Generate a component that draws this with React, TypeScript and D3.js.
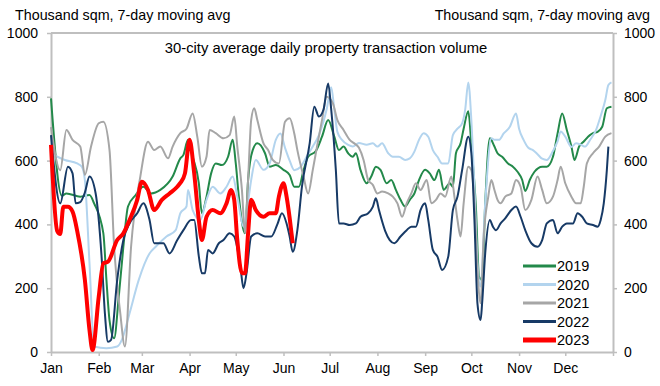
import { useEffect, useRef } from 'react';
import * as d3 from 'd3';

const WIDTH = 660;
const HEIGHT = 386;

const MONTHS = ['Jan', 'Feb', 'Mar', 'Apr', 'May', 'Jun', 'Jul', 'Aug', 'Sep', 'Oct', 'Nov', 'Dec'];
const MONTH_START_DAYS = [0, 31, 59, 90, 120, 151, 181, 212, 243, 273, 304, 334];
const Y_TICKS = [0, 200, 400, 600, 800, 1000];

// [day of year, thousand sqm]
const VOL_2019: [number, number][] = [
  [0, 795], [7, 490], [10, 497], [19, 487], [25, 492], [28, 466], [34, 372], [36, 226], [38, 100], [41, 43],
  [44, 173], [47, 330], [50, 456], [55, 492], [60, 518], [65, 497], [71, 508], [79, 550], [84, 607], [86, 618],
  [89, 665], [92, 612], [96, 529], [98, 435], [101, 487], [104, 560], [107, 591], [111, 586], [115, 612], [118, 665],
  [120, 591], [122, 487], [126, 372], [128, 539], [131, 633], [134, 654], [139, 623], [142, 581], [146, 586], [151, 571],
  [155, 555], [158, 518], [161, 518], [164, 570], [167, 612], [172, 630], [176, 675], [180, 727], [184, 675], [187, 633],
  [190, 644], [193, 623], [196, 612], [198, 623], [201, 571], [205, 529], [208, 550], [211, 581], [214, 571], [218, 529],
  [221, 539], [224, 508], [227, 477], [230, 456], [233, 477], [236, 497], [239, 539], [243, 571], [246, 560], [249, 539],
  [252, 571], [255, 508], [259, 529], [261, 518], [263, 623], [266, 654], [268, 700], [271, 755], [273, 650], [276, 450],
  [278, 236], [280, 226], [282, 466], [285, 670], [288, 644], [290, 623], [293, 612], [297, 590], [300, 581], [303, 565],
  [306, 540], [308, 505], [311, 540], [314, 565], [319, 581], [322, 581], [326, 612], [329, 685], [332, 748], [335, 696],
  [338, 644], [340, 602], [343, 644], [346, 660], [350, 680], [352, 686], [355, 690], [358, 706], [361, 764], [364, 769],
];

const VOL_2020: [number, number][] = [
  [0, 623], [9, 602], [17, 591], [20, 581], [22, 539], [25, 278], [28, 17], [36, 12], [43, 17], [46, 38],
  [51, 121], [57, 226], [64, 309], [68, 330], [75, 362], [81, 382], [84, 435], [88, 456], [89, 508], [92, 445],
  [97, 414], [101, 477], [105, 518], [110, 497], [114, 518], [118, 550], [121, 487], [125, 393], [127, 435], [130, 539],
  [133, 602], [138, 571], [142, 591], [146, 665], [149, 685], [152, 640], [155, 600], [158, 570], [162, 580], [166, 612],
  [170, 644], [174, 680], [179, 760], [182, 830], [184, 760], [186, 690], [189, 665], [193, 649], [196, 644], [200, 655],
  [205, 650], [209, 654], [212, 644], [215, 654], [219, 623], [222, 612], [226, 612], [230, 602], [233, 607], [236, 628],
  [239, 665], [242, 686], [245, 675], [248, 633], [251, 612], [254, 591], [258, 591], [261, 680], [264, 700], [267, 717],
  [269, 760], [271, 845], [273, 727], [275, 518], [277, 278], [279, 205], [282, 466], [286, 670], [288, 665], [291, 665],
  [294, 685], [298, 706], [302, 748], [304, 700], [307, 664], [310, 640], [313, 633], [316, 620], [319, 606], [322, 602],
  [326, 630], [329, 660], [331, 691], [334, 675], [338, 643], [341, 654], [344, 650], [347, 644], [350, 664], [354, 696],
  [357, 740], [360, 790], [362, 837], [364, 845],
];

const VOL_2021: [number, number][] = [
  [0, 705], [6, 570], [10, 696], [14, 665], [19, 644], [22, 555], [26, 644], [31, 717], [34, 722], [38, 633],
  [41, 330], [45, 121], [48, 17], [52, 330], [58, 550], [63, 659], [67, 633], [71, 644], [76, 607], [79, 644],
  [84, 686], [88, 700], [92, 748], [95, 675], [98, 581], [101, 612], [103, 696], [107, 686], [112, 670], [116, 680],
  [119, 738], [121, 644], [124, 508], [126, 372], [128, 539], [130, 727], [132, 764], [134, 727], [138, 654], [141, 633],
  [144, 602], [148, 591], [152, 722], [155, 733], [158, 685], [160, 633], [164, 550], [167, 497], [170, 570], [173, 650],
  [176, 727], [179, 800], [183, 780], [186, 727], [190, 696], [194, 665], [197, 654], [200, 640], [203, 602], [206, 539],
  [209, 524], [212, 497], [215, 503], [219, 497], [222, 487], [225, 466], [228, 424], [231, 466], [234, 497], [237, 529],
  [240, 508], [244, 539], [247, 466], [250, 477], [253, 497], [256, 487], [260, 550], [262, 487], [264, 414], [266, 362],
  [268, 466], [271, 581], [273, 570], [275, 466], [277, 257], [279, 153], [281, 362], [284, 487], [286, 539], [288, 508],
  [290, 477], [292, 466], [295, 487], [299, 497], [302, 539], [305, 518], [308, 445], [312, 477], [316, 550], [319, 508],
  [322, 466], [326, 487], [329, 539], [331, 581], [334, 529], [338, 487], [341, 466], [344, 466], [346, 518], [348, 591],
  [352, 623], [356, 644], [360, 675], [364, 686],
];

const VOL_2022: [number, number][] = [
  [0, 680], [6, 466], [11, 581], [14, 560], [16, 466], [19, 470], [22, 500], [25, 550], [29, 497], [33, 288],
  [35, 121], [37, 32], [39, 38], [43, 226], [47, 351], [51, 403], [56, 435], [60, 466], [64, 414], [67, 341],
  [73, 341], [77, 309], [82, 351], [86, 382], [91, 414], [93, 414], [96, 300], [98, 247], [100, 247], [102, 320],
  [105, 309], [109, 341], [112, 351], [116, 372], [119, 362], [123, 268], [125, 200], [127, 247], [130, 362], [134, 372],
  [139, 362], [143, 362], [147, 400], [150, 435], [153, 403], [155, 362], [157, 314], [160, 382], [163, 519], [168, 654],
  [171, 769], [174, 738], [177, 760], [180, 842], [182, 760], [185, 570], [187, 403], [190, 403], [194, 398], [198, 403],
  [201, 424], [206, 435], [209, 455], [211, 482], [213, 445], [217, 380], [220, 351], [223, 341], [227, 362], [231, 382],
  [234, 393], [237, 393], [240, 445], [243, 466], [245, 414], [248, 320], [251, 299], [254, 257], [258, 299], [261, 445],
  [264, 487], [267, 570], [271, 675], [273, 623], [275, 414], [277, 150], [279, 100], [280, 153], [282, 309], [285, 414],
  [287, 393], [289, 382], [292, 403], [295, 419], [299, 445], [302, 456], [305, 424], [308, 382], [312, 341], [316, 330],
  [319, 351], [322, 403], [326, 414], [329, 372], [332, 393], [335, 403], [339, 403], [342, 435], [345, 424], [348, 403],
  [352, 398], [355, 393], [357, 414], [359, 466], [361, 570], [362, 644],
];

const VOL_2023: [number, number][] = [
  [0, 649], [4, 380], [6, 370], [8, 455], [11, 455], [14, 440], [17, 380], [22, 226], [25, 69], [27, 6],
  [31, 173], [34, 278], [37, 283], [43, 351], [47, 372], [51, 414], [56, 477], [59, 534], [63, 508], [67, 445],
  [72, 477], [77, 497], [82, 518], [84, 530], [87, 560], [90, 665], [93, 560], [96, 414], [98, 351], [101, 424],
  [105, 445], [110, 435], [114, 466], [117, 508], [119, 477], [121, 351], [124, 247], [126, 247], [128, 372], [130, 477],
  [133, 445], [138, 424], [142, 435], [146, 435], [148, 487], [151, 529], [153, 487], [155, 420], [157, 341],
];

const SERIES = [
  { label: '2019', color: '#23894a', width: 2, data: VOL_2019 },
  { label: '2020', color: '#b3d4ee', width: 2, data: VOL_2020 },
  { label: '2021', color: '#a6a6a6', width: 2, data: VOL_2021 },
  { label: '2022', color: '#173a66', width: 2, data: VOL_2022 },
  { label: '2023', color: '#ff0000', width: 4, data: VOL_2023 },
];

const FONT = '"Liberation Sans", Arial, sans-serif';
const AXIS_COLOR = '#bfbfbf';

export default function App() {
  const svgRef = useRef<SVGSVGElement>(null);

  useEffect(() => {
    if (!svgRef.current) return;

    const margin = { top: 33, right: 47, bottom: 34, left: 51 };
    const x0 = margin.left;
    const x1 = WIDTH - margin.right;
    const y0 = HEIGHT - margin.bottom;
    const y1 = margin.top;

    const svg = d3.select(svgRef.current);
    svg.selectAll('*').remove();

    const xScale = d3.scaleLinear().domain([0, 365]).range([x0, x1]);
    const yScale = d3.scaleLinear().domain([0, 1000]).range([y0, y1]);

    // Frame top
    svg.append('line')
      .attr('x1', x0)
      .attr('x2', x1)
      .attr('y1', y1)
      .attr('y2', y1)
      .attr('stroke', AXIS_COLOR)
      .attr('stroke-width', 2);

    const styleAxis = (g: d3.Selection<SVGGElement, unknown, null, undefined>) => {
      g.select('.domain').attr('stroke', AXIS_COLOR).attr('stroke-width', 2);
      g.selectAll('.tick line').attr('stroke', AXIS_COLOR).attr('stroke-width', 1.5);
      g.selectAll('text')
        .style('font-family', FONT)
        .style('font-size', '14px')
        .style('fill', '#000');
    };

    // Left axis
    svg.append('g')
      .attr('transform', `translate(${x0},0)`)
      .call(d3.axisLeft(yScale).tickValues(Y_TICKS).tickFormat(d3.format('d'))
        .tickSize(4).tickSizeOuter(0).tickPadding(9))
      .call(styleAxis);

    // Right axis
    svg.append('g')
      .attr('transform', `translate(${x1},0)`)
      .call(d3.axisRight(yScale).tickValues(Y_TICKS).tickFormat(d3.format('d'))
        .tickSize(4).tickSizeOuter(0).tickPadding(7))
      .call(styleAxis);

    // Bottom axis
    svg.append('g')
      .attr('transform', `translate(0,${y0})`)
      .call(d3.axisBottom(xScale)
        .tickValues([...MONTH_START_DAYS, 365])
        .tickFormat((d) => {
          const i = MONTH_START_DAYS.indexOf(d as number);
          return i >= 0 ? MONTHS[i] : '';
        })
        .tickSize(4)
        .tickSizeOuter(0)
        .tickPadding(7))
      .call(styleAxis);

    // Axis titles
    svg.append('text')
      .attr('x', 15)
      .attr('y', 20)
      .style('font-family', FONT)
      .style('font-size', '14.3px')
      .text('Thousand sqm, 7-day moving avg');

    svg.append('text')
      .attr('x', 650)
      .attr('y', 20)
      .attr('text-anchor', 'end')
      .style('font-family', FONT)
      .style('font-size', '14.3px')
      .text('Thousand sqm, 7-day moving avg');

    // Chart title
    svg.append('text')
      .attr('x', 326)
      .attr('y', 53)
      .attr('text-anchor', 'middle')
      .style('font-family', FONT)
      .style('font-size', '14.8px')
      .text('30-city average daily property transaction volume');

    const line = d3.line<[number, number]>()
      .x((d) => xScale(d[0]))
      .y((d) => yScale(d[1]))
      .curve(d3.curveMonotoneX);

    SERIES.forEach((s) => {
      svg.append('path')
        .datum(s.data)
        .attr('fill', 'none')
        .attr('stroke', s.color)
        .attr('stroke-width', s.width)
        .attr('stroke-linejoin', 'round')
        .attr('d', line);
    });

    // Legend
    const legend = svg.append('g').attr('transform', 'translate(523,266)');
    SERIES.forEach((s, i) => {
      const row = legend.append('g').attr('transform', `translate(0,${i * 18.5})`);
      row.append('line')
        .attr('x1', 0)
        .attr('x2', 33)
        .attr('stroke', s.color)
        .attr('stroke-width', s.width + 1);
      row.append('text')
        .attr('x', 34)
        .attr('y', 5)
        .style('font-family', FONT)
        .style('font-size', '14.5px')
        .text(s.label);
    });
  }, []);

  return (
    <div style={{ position: 'fixed', left: 0, top: 0, width: WIDTH, height: HEIGHT, background: '#fff' }}>
      <svg ref={svgRef} width={WIDTH} height={HEIGHT} />
    </div>
  );
}
